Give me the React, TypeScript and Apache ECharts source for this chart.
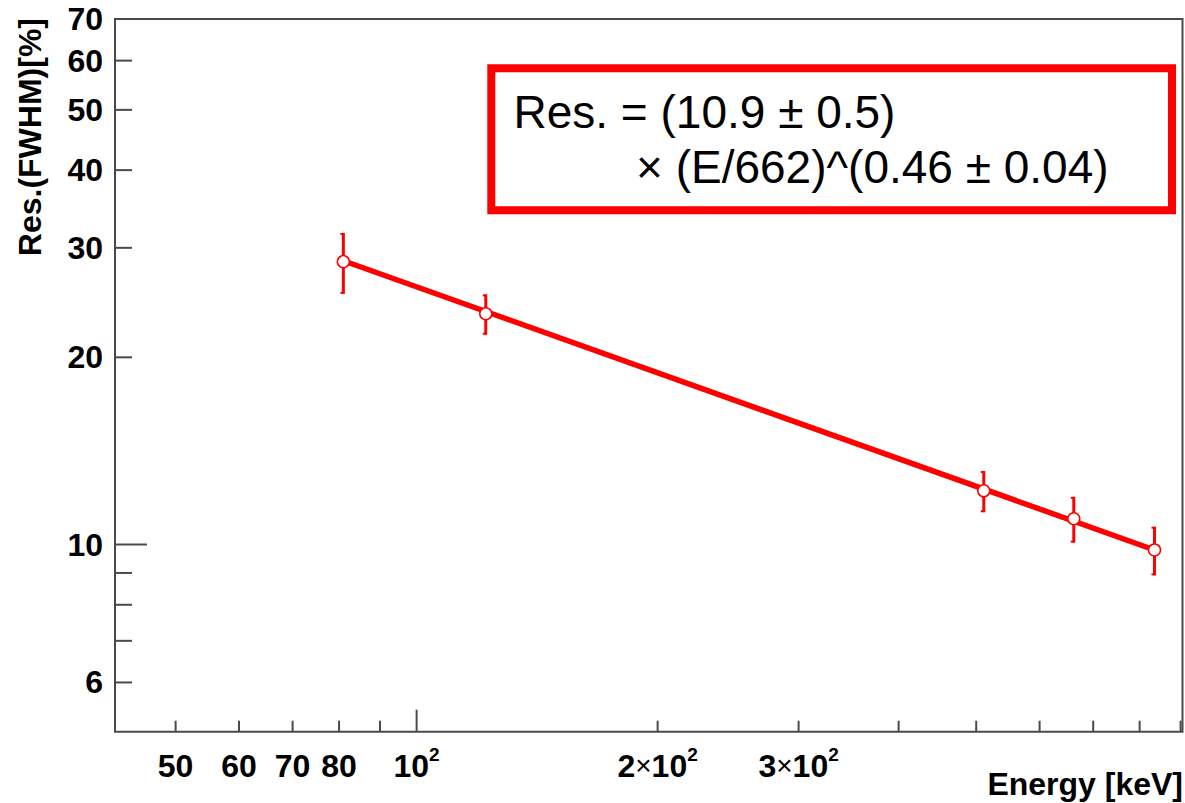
import React, { useEffect, useRef } from "react";
import * as echarts from "echarts";

// ---- data ----
const energies = [81, 122, 511, 662, 835];
const resolutions = [28.5, 23.5, 12.2, 11.0, 9.8];
const resErrors = [3.2, 1.75, 0.93, 0.93, 0.88];

const fitEnergies = [81, 835];
const fitValues = [28.6, 9.8];

const X_MIN = 42;
const X_MAX = 905;
const Y_MIN = 5;
const Y_MAX = 70;

const xTickValues = [50, 60, 70, 80, 90, 100, 200, 300, 400, 500, 600, 700, 800, 900];
const xMajorTicks = [100];
const xLabelValues = [50, 60, 70, 80, 100, 200, 300];
const xLabelTexts = [
  "{a|50}",
  "{a|60}",
  "{a|70}",
  "{a|80}",
  "{a|10}{s|2}",
  "{a|2}{x|×}{a|10}{s|2}",
  "{a|3}{x|×}{a|10}{s|2}",
];

const yTickValues = [6, 7, 8, 9, 10, 20, 30, 40, 50, 60];
const yMajorTicks = [10];
const yLabelValues = [6, 10, 20, 30, 40, 50, 60, 70];
const yLabelTexts = ["6", "10", "20", "30", "40", "50", "60", "70"];

const fitLine1 = "Res. = (10.9 ± 0.5)";
const fitLine2 = "× (E/662)^(0.46 ± 0.04)";
const xTitle = "Energy [keV]";
const yTitle = "Res.(FWHM)[%]";

const FONT = "'Liberation Sans', Arial, Helvetica, sans-serif";
const AXIS_COLOR = "#4a4a4a";
const RED = "#ff0000";

export default function App() {
  const ref = useRef<HTMLDivElement>(null);

  useEffect(() => {
    if (!ref.current) return;
    const chart = echarts.init(ref.current, undefined, { renderer: "svg" });

    const option: any = {
      animation: false,
      backgroundColor: "#ffffff",
      grid: {
        left: 115,
        right: 2.5,
        top: 19,
        bottom: 71.3,
        show: true,
        borderColor: AXIS_COLOR,
        borderWidth: 2,
        backgroundColor: "transparent",
      },
      xAxis: {
        type: "log",
        min: X_MIN,
        max: X_MAX,
        axisLine: { show: false },
        axisTick: { show: false },
        axisLabel: { show: false },
        splitLine: { show: false },
        minorTick: { show: false },
      },
      yAxis: {
        type: "log",
        min: Y_MIN,
        max: Y_MAX,
        axisLine: { show: false },
        axisTick: { show: false },
        axisLabel: { show: false },
        splitLine: { show: false },
        minorTick: { show: false },
      },
      series: [
        // x ticks
        {
          type: "custom",
          clip: false,
          silent: true,
          z: 5,
          data: xTickValues.map((v) => [v, Y_MIN]),
          renderItem: (params: any, api: any) => {
            const v = api.value(0);
            const p = api.coord([v, Y_MIN]);
            const len = xMajorTicks.indexOf(v) >= 0 ? 22 : 11;
            return {
              type: "line",
              shape: { x1: p[0], y1: p[1], x2: p[0], y2: p[1] - len },
              style: { stroke: AXIS_COLOR, lineWidth: 2 },
            };
          },
        },
        // y ticks
        {
          type: "custom",
          clip: false,
          silent: true,
          z: 5,
          data: yTickValues.map((v) => [X_MIN, v]),
          renderItem: (params: any, api: any) => {
            const v = api.value(1);
            const p = api.coord([X_MIN, v]);
            const len = yMajorTicks.indexOf(v) >= 0 ? 32 : 17;
            return {
              type: "line",
              shape: { x1: p[0], y1: p[1], x2: p[0] + len, y2: p[1] },
              style: { stroke: AXIS_COLOR, lineWidth: 2 },
            };
          },
        },
        // x labels
        {
          type: "custom",
          clip: false,
          silent: true,
          z: 5,
          data: xLabelValues.map((v) => [v, Y_MIN]),
          renderItem: (params: any, api: any) => {
            const v = api.value(0);
            const p = api.coord([v, Y_MIN]);
            return {
              type: "text",
              x: p[0],
              y: p[1] + 34,
              style: {
                text: xLabelTexts[params.dataIndex],
                align: "center",
                verticalAlign: "middle",
                fill: "#000",
                rich: {
                  a: {
                    fontFamily: FONT,
                    fontSize: 32,
                    fontWeight: "bold",
                    lineHeight: 42,
                    fill: "#000",
                  },
                  x: {
                    fontFamily: FONT,
                    fontSize: 28,
                    fontWeight: "normal",
                    lineHeight: 42,
                    fill: "#000",
                  },
                  s: {
                    fontFamily: FONT,
                    fontSize: 19,
                    fontWeight: "bold",
                    verticalAlign: "top",
                    lineHeight: 19,
                    fill: "#000",
                  },
                },
              },
            };
          },
        },
        // y labels
        {
          type: "custom",
          clip: false,
          silent: true,
          z: 5,
          data: yLabelValues.map((v) => [X_MIN, v]),
          renderItem: (params: any, api: any) => {
            const v = api.value(1);
            const p = api.coord([X_MIN, v]);
            return {
              type: "text",
              x: p[0] - 12,
              y: p[1],
              style: {
                text: yLabelTexts[params.dataIndex],
                align: "right",
                verticalAlign: "middle",
                fill: "#000",
                fontFamily: FONT,
                fontSize: 32,
                fontWeight: "bold",
              },
            };
          },
        },
        // fit line
        {
          type: "line",
          z: 2,
          silent: true,
          symbol: "none",
          showSymbol: false,
          data: fitEnergies.map((e, i) => [e, fitValues[i]]),
          lineStyle: { color: RED, width: 5.5 },
        },
        // error bars
        {
          type: "custom",
          z: 3,
          silent: true,
          clip: false,
          data: energies.map((e, i) => [e, resolutions[i], resErrors[i]]),
          renderItem: (params: any, api: any) => {
            const x = api.value(0);
            const y = api.value(1);
            const err = api.value(2);
            const top = api.coord([x, y + err]);
            const bot = api.coord([x, y - err]);
            const st = { stroke: RED, lineWidth: 3 };
            return {
              type: "group",
              children: [
                { type: "line", shape: { x1: top[0], y1: top[1], x2: bot[0], y2: bot[1] }, style: st },
                { type: "line", shape: { x1: top[0] - 3, y1: top[1] + 1, x2: top[0] + 1, y2: top[1] + 1 }, style: { stroke: RED, lineWidth: 2 } },
                { type: "line", shape: { x1: bot[0] - 3, y1: bot[1] - 1, x2: bot[0] + 1, y2: bot[1] - 1 }, style: { stroke: RED, lineWidth: 2 } },
              ],
            };
          },
        },
        // data points
        {
          type: "scatter",
          z: 4,
          silent: true,
          symbol: "circle",
          symbolSize: 12,
          data: energies.map((e, i) => [e, resolutions[i]]),
          itemStyle: { color: "#ffffff", borderColor: RED, borderWidth: 1.5, opacity: 1 },
        },
      ],
      graphic: [
        {
          type: "rect",
          z: 10,
          shape: { x: 491.3, y: 68.3, width: 680.7, height: 142 },
          style: { fill: "#ffffff", stroke: RED, lineWidth: 8 },
        },
        {
          type: "text",
          z: 11,
          x: 513.5,
          y: 111.5,
          style: {
            text: fitLine1,
            fontFamily: FONT,
            fontSize: 46,
            fill: "#000",
            align: "left",
            verticalAlign: "middle",
          },
        },
        {
          type: "text",
          z: 11,
          x: 636,
          y: 166.5,
          style: {
            text: fitLine2,
            fontFamily: FONT,
            fontSize: 46,
            fill: "#000",
            align: "left",
            verticalAlign: "middle",
          },
        },
        {
          type: "text",
          z: 11,
          x: 1183,
          y: 784,
          style: {
            text: xTitle,
            fontFamily: FONT,
            fontSize: 32,
            fontWeight: "bold",
            fill: "#000",
            align: "right",
            verticalAlign: "middle",
          },
        },
        {
          type: "text",
          z: 11,
          x: 30,
          y: 18,
          rotation: Math.PI / 2,
          style: {
            text: yTitle,
            fontFamily: FONT,
            fontSize: 32,
            fontWeight: "bold",
            fill: "#000",
            align: "right",
            verticalAlign: "middle",
          },
        },
      ],
    };

    chart.setOption(option);
    return () => {
      chart.dispose();
    };
  }, []);

  return (
    <div
      ref={ref}
      style={{ position: "absolute", left: 0, top: 0, width: 1185, height: 803, background: "#fff" }}
    />
  );
}
